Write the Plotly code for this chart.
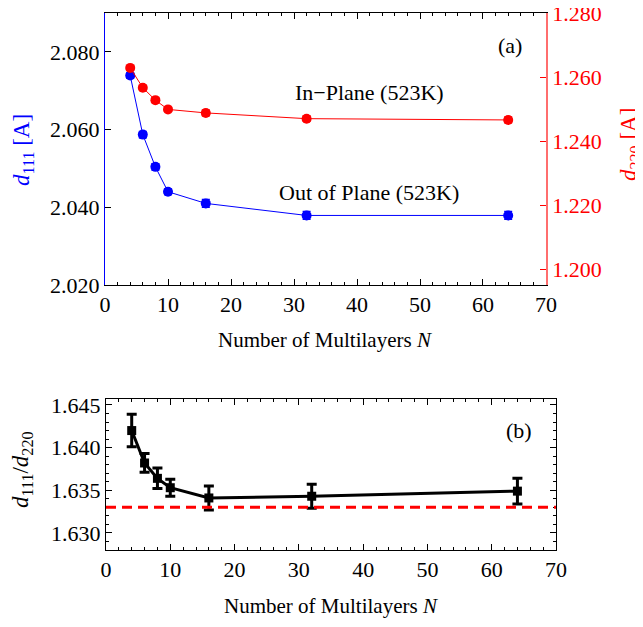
import plotly.graph_objects as go

# ---------------- data ----------------
N = [4, 6, 8, 10, 16, 32, 64]
d111 = [2.0739, 2.0587, 2.0504, 2.0440, 2.0410, 2.0379, 2.0379]
d111_err = [0.0007, 0.0008, 0.0008, 0.0007, 0.0010, 0.0010, 0.0010]
d220 = [1.2630, 1.2568, 1.2529, 1.2500, 1.2489, 1.2471, 1.2467]
d220_err = [0.0007, 0.0007, 0.0007, 0.0006, 0.0009, 0.0008, 0.0009]
ratio = [1.6420, 1.6382, 1.6364, 1.6353, 1.6341, 1.6343, 1.6349]
ratio_err = [0.0019, 0.0011, 0.0012, 0.0010, 0.0014, 0.0014, 0.0015]
ideal_ratio = 1.633

OFF = 8  # page body margin
W, H = 643 - OFF, 627 - OFF
FONT = "Liberation Serif"
BLUE = "rgb(0,0,255)"
RED = "rgb(255,0,0)"

fig = go.Figure()

fig.add_trace(go.Scatter(
    x=N, y=d111, mode="lines+markers", xaxis="x", yaxis="y",
    line=dict(color=BLUE, width=1),
    marker=dict(color=BLUE, size=10, symbol="circle"),
    error_y=dict(type="data", array=d111_err, color=BLUE, thickness=1.5, width=4),
    showlegend=False))

fig.add_trace(go.Scatter(
    x=N, y=d220, mode="lines+markers", xaxis="x", yaxis="y2",
    line=dict(color=RED, width=1),
    marker=dict(color=RED, size=10, symbol="circle"),
    error_y=dict(type="data", array=d220_err, color=RED, thickness=1.5, width=4),
    showlegend=False))

fig.add_trace(go.Scatter(
    x=N, y=ratio, mode="lines+markers", xaxis="x2", yaxis="y3",
    line=dict(color="black", width=3),
    marker=dict(color="black", size=9, symbol="square"),
    error_y=dict(type="data", array=ratio_err, color="black", thickness=3, width=5),
    showlegend=False))

fig.add_shape(type="line", xref="x2 domain", yref="y3", x0=0, x1=1,
              y0=ideal_ratio, y1=ideal_ratio,
              line=dict(color=RED, width=3, dash="10px,6px"))

tickfont = dict(family=FONT, size=22, color="black")

def px_x(p):
    return (p - OFF) / W

def px_y(p):
    return 1 - (p - OFF) / H

common_x = dict(range=[0, 70.001], dtick=10, ticks="inside", ticklen=6, tickwidth=1,
                tickcolor="black", showline=True, linecolor="black", linewidth=1,
                mirror="ticks", showgrid=False, zeroline=False, tickfont=tickfont,
                automargin=False, ticklabeloverflow="allow",
                minor=dict(dtick=2, ticks="inside", ticklen=3, tickcolor="black"))

fig.update_layout(
    width=W, height=H,
    autosize=False,
    margin=dict(l=0, r=0, t=0, b=0, pad=0, autoexpand=False),
    paper_bgcolor="white", plot_bgcolor="white",
    font=dict(family=FONT, size=22, color="black"),
    xaxis=dict(domain=[px_x(105), px_x(546)], anchor="y", **common_x),
    yaxis=dict(domain=[px_y(285), px_y(13)], range=[2.020, 2.090], dtick=0.02,
               tick0=2.0, tickformat=".3f", ticks="inside", ticklen=6, tickcolor="black",
               showline=True, linecolor=BLUE, linewidth=1, showgrid=False, zeroline=False,
               tickfont=tickfont, anchor="x", automargin=False, ticklabeloverflow="allow"),
    yaxis2=dict(overlaying="y", side="right", anchor="x", range=[1.195, 1.2802],
                dtick=0.02, tick0=1.2, tickformat=".3f", ticks="inside", ticklen=6,
                tickcolor=RED, showline=True, linecolor="rgb(255,110,110)", linewidth=1.5,
                showgrid=False, zeroline=False, automargin=False, ticklabeloverflow="allow",
                tickfont=dict(family=FONT, size=22, color=RED)),
    xaxis2=dict(domain=[px_x(106), px_x(556)], anchor="y3", **common_x),
    yaxis3=dict(domain=[px_y(550), px_y(399)], range=[1.628, 1.6457], dtick=0.005,
                tick0=1.63, tickformat=".3f", ticks="inside", ticklen=6, tickcolor="black",
                showline=True, linecolor="black", linewidth=1, mirror="ticks",
                showgrid=False, zeroline=False, tickfont=tickfont, anchor="x2",
                automargin=False, ticklabeloverflow="allow",
                minor=dict(dtick=0.001, ticks="inside", ticklen=3, tickcolor="black")),
)

ann = [
    dict(text="(a)", x=px_x(510), y=px_y(46), font=dict(size=22)),
    dict(text="In\u2212Plane (523K)", x=px_x(369), y=px_y(92), font=dict(size=22)),
    dict(text="Out of Plane (523K)", x=px_x(369), y=px_y(192), font=dict(size=22)),
    dict(text="(b)", x=px_x(519), y=px_y(430), font=dict(size=22)),
    dict(text="Number of Multilayers <i>N</i>", x=px_x(325), y=px_y(340), font=dict(size=21)),
    dict(text="Number of Multilayers <i>N</i>", x=px_x(331), y=px_y(606), font=dict(size=21)),
    dict(text="<i>d</i><sub>111</sub> [A]", x=px_x(23), y=px_y(150), textangle=-90,
         font=dict(size=23, color=BLUE)),
    dict(text="<i>d</i><sub>220</sub> [A]", x=px_x(630), y=px_y(145), textangle=-90,
         font=dict(size=23, color=RED)),
    dict(text="<i>d</i><sub>111</sub>/<i>d</i><sub>220</sub>", x=px_x(22), y=px_y(470),
         textangle=-90, font=dict(size=23, color="black")),
]
for a in ann:
    f = dict(family=FONT, color="black")
    f.update(a.pop("font"))
    fig.add_annotation(xref="paper", yref="paper", showarrow=False,
                       xanchor="center", yanchor="middle", font=f, **a)

fig.write_html("out.html")
